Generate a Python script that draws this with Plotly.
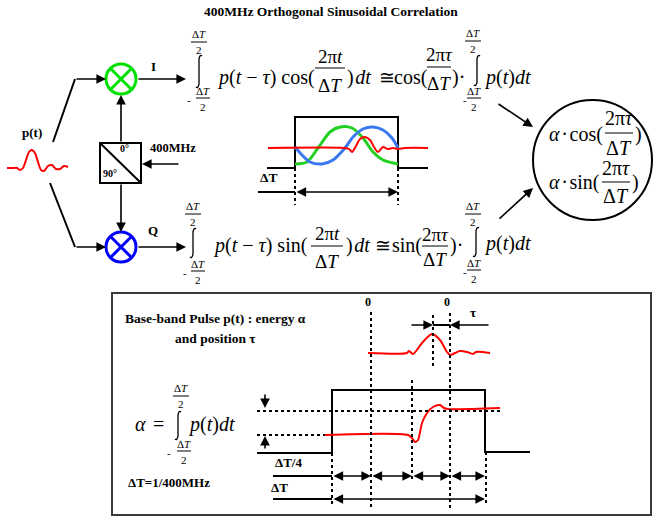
import plotly.graph_objects as go

W, H = 654, 518
SERIF = "Liberation Serif"

# ---------------- data: curves (pixel space) ----------------
pulse_in_x = [7, 12, 17, 20, 23, 26, 29, 32, 35, 38, 41, 44, 48, 52, 56, 60, 64, 68]
pulse_in_y = [168, 168, 168, 170, 168, 160, 152, 150, 153, 162, 170, 171, 166, 165, 169, 169, 166, 167]

wave_red_x = [268, 345, 349, 352, 356, 360, 365, 370, 374, 378, 383, 388, 393, 398, 405, 428]
wave_red_y = [148, 148, 149, 152, 146, 139, 137, 140, 147, 152, 147, 149, 148, 149, 148, 148]

wave_green_x = [295, 307, 318, 330, 340, 352, 363, 373, 383, 398]
wave_green_y = [164, 162, 148, 132, 127, 128, 138, 152, 160, 164]

wave_blue_x = [295, 302, 310, 322, 333, 345, 353, 363, 373, 383, 392, 398]
wave_blue_y = [147, 155, 162, 164, 160, 148, 137, 129, 127, 130, 138, 148]

gate_top_x = [267, 295, 295, 398, 398, 428]
gate_top_y = [168, 168, 117, 117, 168, 168]

pulse_bb_x = [368, 407, 409, 413, 422, 432, 440, 447, 450, 455, 460, 467, 473, 476, 490]
pulse_bb_y = [353, 353, 351, 354, 343, 334, 340, 352, 355, 353, 351, 352, 354, 352, 353]

step_x = [325, 408, 412, 415, 418, 422, 427, 433, 440, 444, 448, 500]
step_y = [435, 435, 438, 442, 440, 423, 413, 407, 405, 408, 409, 408]

gate_bot_x = [257, 332, 332, 485, 485, 530]
gate_bot_y = [453, 453, 390, 390, 452, 452]

# dotted guide lines (x0, y0, x1, y1)
dotted = [(295, 168, 295, 205), (398, 168, 398, 205),
          (332, 453, 332, 507), (486, 452, 486, 505),
          (371, 312, 371, 508), (450, 313, 450, 508),
          (433, 315, 433, 367), (412, 380, 412, 482),
          (257, 411, 500, 411), (257, 435, 325, 435)]

# solid lines
solid = [(53, 142, 75, 79), (50, 183, 75, 247),
         (258, 192, 295, 192), (273, 476, 332, 476), (273, 499, 332, 499),
         (433, 325, 450, 325)]

# arrows (x0, y0, x1, y1, side)
arrows = [(75, 79, 106, 79, "end"), (75, 247, 106, 247, "end"),
          (137, 79, 186, 79, "end"), (137, 247, 186, 247, "end"),
          (121, 143, 121, 95, "end"), (121, 183, 121, 232, "end"),
          (180, 164, 142, 164, "end"),
          (497, 103, 533, 127, "end"), (498, 220, 533, 188, "end"),
          (295, 192, 398, 192, "end+start"),
          (410, 325, 433, 325, "end"), (490, 325, 450, 325, "end"),
          (332, 476, 371, 476, "end+start"), (371, 476, 412, 476, "end+start"),
          (412, 476, 450, 476, "end+start"), (450, 476, 485, 476, "end+start"),
          (332, 499, 485, 499, "end+start"),
          (265, 393, 265, 408, "end"), (265, 450, 265, 436, "end")]

fig = go.Figure()
shapes = []
ann = []


def line(x0, y0, x1, y1, width=2, color="black", dash=None):
    d = dict(type="line", xref="x", yref="y", x0=x0, y0=y0, x1=x1, y1=y1,
             line=dict(color=color, width=width))
    if dash:
        d["line"]["dash"] = dash
    shapes.append(d)


def txt(x, y, s, size, anchor="center", color="black"):
    ann.append(dict(x=x, y=y, xref="x", yref="y", text=s, showarrow=False,
                    xanchor=anchor, yanchor="middle", borderpad=0,
                    font=dict(family=SERIF, size=size, color=color)))


def frac(xc, ybar, num, den, size, half, yn, yd):
    txt(xc, yn, num, size)
    txt(xc, yd, den, size)
    line(xc - half, ybar, xc + half, ybar, width=1)


def integral(x, y0, y1):
    p = (f"M {x+3},{y0+1} Q {x+1},{y0-1} {x},{y0+4} L {x},{y1-4} "
         f"Q {x-1},{y1+1} {x-3},{y1-1}")
    shapes.append(dict(type="path", xref="x", yref="y", path=p,
                       line=dict(color="black", width=1.3)))


def limits(xu, ybu, xl, ybl, xm):
    frac(xu, ybu, "Δ<i>T</i>", "2", 11, 8, ybu - 8, ybu + 8)
    txt(xm, ybl + 2, "-", 11)
    frac(xl, ybl, "Δ<i>T</i>", "2", 11, 7, ybl - 7, ybl + 9)


def arrow(x0, y0, x1, y1, side="end"):
    ann.append(dict(x=x1, y=y1, ax=x0, ay=y0, xref="x", yref="y", axref="x", ayref="y",
                    showarrow=True, arrowhead=2, arrowsize=1.2, arrowwidth=1.6,
                    arrowcolor="black", arrowside=side, startarrowhead=2,
                    startarrowsize=1.2, standoff=0, startstandoff=0, text=""))


def curve(xs, ys, color, width):
    fig.add_trace(go.Scatter(x=xs, y=ys, mode="lines", hoverinfo="skip",
                             line=dict(color=color, width=width, shape="spline", smoothing=0.8)))


def poly(xs, ys, color="black", width=2):
    fig.add_trace(go.Scatter(x=xs, y=ys, mode="lines", hoverinfo="skip",
                             line=dict(color=color, width=width)))


# ---------------- curves ----------------
curve(pulse_in_x, pulse_in_y, "#ff0000", 2)
poly(gate_top_x, gate_top_y)
curve(wave_green_x, wave_green_y, "#22d022", 3)
curve(wave_blue_x, wave_blue_y, "#3a78f0", 3)
curve(wave_red_x, wave_red_y, "#ff0000", 2)
poly(gate_bot_x, gate_bot_y)
curve(pulse_bb_x, pulse_bb_y, "#ff0000", 2)
curve(step_x, step_y, "#ff0000", 2)

# ---------------- shapes ----------------
for (x0, y0, x1, y1) in dotted:
    line(x0, y0, x1, y1, width=2, dash="dot")
for (x0, y0, x1, y1) in solid:
    line(x0, y0, x1, y1, width=2)

# mixers
for cy, col in [(79, "#00e000"), (247, "#0000ff")]:
    shapes.append(dict(type="circle", xref="x", yref="y", x0=106, y0=cy - 15, x1=136, y1=cy + 15,
                       line=dict(color=col, width=3)))
    line(110.5, cy - 10.5, 131.5, cy + 10.5, width=3, color=col)
    line(110.5, cy + 10.5, 131.5, cy - 10.5, width=3, color=col)

# phase splitter
shapes.append(dict(type="rect", xref="x", yref="y", x0=100, y0=143, x1=141, y1=183,
                   line=dict(color="black", width=2)))
line(100, 143, 141, 183, width=2)

# result circle
shapes.append(dict(type="circle", xref="x", yref="y", x0=533, y0=100, x1=652, y1=220,
                   line=dict(color="black", width=2)))

# bottom frame
shapes.append(dict(type="rect", xref="x", yref="y", x0=112, y0=293, x1=651, y1=515,
                   line=dict(color="#3a3a3a", width=2)))

for a in arrows:
    arrow(*a)

# ---------------- labels ----------------
B = lambda s: "<b>" + s + "</b>"
txt(331, 11, B("400MHz Orthogonal Sinusoidal Correlation"), 13.5)
txt(32, 132, B("p(t)"), 13)
txt(153, 66, B("I"), 13)
txt(153, 230, B("Q"), 13)
txt(124, 148, B("0°"), 10)
txt(110, 173, B("90°"), 10)
txt(173, 148, B("400MHz"), 12.5)
txt(268, 177, B("ΔT"), 13.5)
txt(215, 318, B("Base-band Pulse p(t) : energy α"), 13.5)
txt(215, 338, B("and position τ"), 13.5)
txt(368, 302, B("0"), 12)
txt(447, 302, B("0"), 12)
txt(473, 312, B("τ"), 13)
txt(288, 462, B("ΔT/4"), 13)
txt(279, 487, B("ΔT"), 13)
txt(169, 482, B("ΔT=1/400MHz"), 13)

# ---------------- formulas ----------------
F = 20
FF = 19
HS = "\u200a"
# I branch
limits(199, 42, 203, 98, 189)
integral(199, 55, 88)
txt(216, 77, "<i>p</i>(<i>t</i> − <i>τ</i>) cos(", F, "left")
frac(330, 68, "2π<i>t</i>", "Δ<i>T</i>", FF, 15, 56, 85)
txt(346, 77, ")" + HS + "<i>dt</i>", F, "left")
txt(387, 77, "≅", 19)
txt(393, 77, "cos(", F, "left")
frac(439, 67, "2π<i>τ</i>", "Δ<i>T</i>", FF, 12, 54, 83)
txt(451, 77, ")·", F, "left")
limits(473, 41, 474, 98, 465)
integral(477, 55, 86)
txt(483, 77, "<i>p</i>(<i>t</i>)<i>dt</i>", F, "left")

# Q branch
limits(193, 214, 198, 271, 185)
integral(193, 228, 258)
txt(212, 245, "<i>p</i>(<i>t</i> − <i>τ</i>) sin(", F, "left")
frac(327, 246, "2π<i>t</i>", "Δ<i>T</i>", FF, 16, 233, 261)
txt(345, 245, ")" + HS + "<i>dt</i>", F, "left")
txt(383, 245, "≅", 19)
txt(391, 245, "sin(", F, "left")
frac(435, 246, "2π<i>τ</i>", "Δ<i>T</i>", FF, 13, 234, 259)
txt(449, 245, ")·", F, "left")
limits(473, 214, 474, 270, 465)
integral(476, 227, 257)
txt(483, 243, "<i>p</i>(<i>t</i>)<i>dt</i>", F, "left")

# result circle
txt(548, 134, "<i>α</i>" + HS + "·" + HS + "cos(", 20, "left")
frac(619, 133, "2π<i>τ</i>", "Δ<i>T</i>", 20, 14, 118, 148)
txt(634, 134, ")", 20, "left")
txt(548, 182, "<i>α</i>" + HS + "·" + HS + "sin(", 20, "left")
frac(616, 182, "2π<i>τ</i>", "Δ<i>T</i>", 20, 14, 168, 196)
txt(631, 182, ")", 20, "left")

# alpha definition
txt(140, 424, "<i>α</i>", F)
txt(158, 424, "=", F)
limits(181, 396, 184, 451, 169)
integral(178, 411, 440)
txt(187, 424, "<i>p</i>(<i>t</i>)<i>dt</i>", F, "left")

fig.update_layout(
    width=W, height=H, autosize=False,
    margin=dict(l=0, r=0, t=0, b=0, pad=0),
    paper_bgcolor="white", plot_bgcolor="white",
    showlegend=False,
    shapes=shapes, annotations=ann,
    xaxis=dict(range=[0, W], visible=False, fixedrange=True),
    yaxis=dict(range=[H, 0], visible=False, fixedrange=True),
)
fig.write_html("out.html", config={"displayModeBar": False},
               post_script="document.body.style.margin='0px';")
